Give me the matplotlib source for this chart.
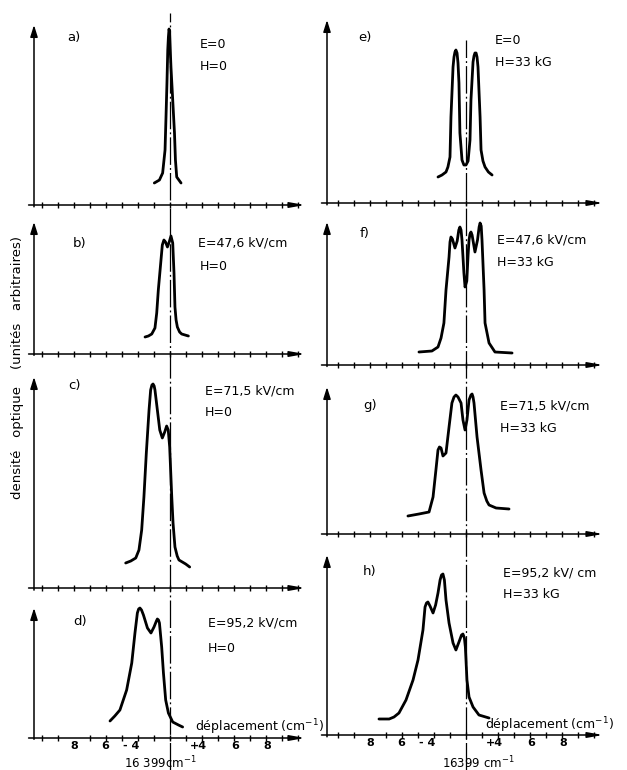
import matplotlib
matplotlib.use('Agg')
import matplotlib.pyplot as plt

plt.rcParams['font.family'] = ['DejaVu Sans']

W, H = 627, 770

# ---------------- data (x: displacement from 16399 cm-1, y: optical density, arbitrary units)
a_x = [-0.98, -0.66, -0.46, -0.31, -0.25, -0.19, -0.14, -0.10, -0.06, -0.03, 0.06, 0.17, 0.28, 0.34, 0.42, 0.69]
a_y = [22, 25, 32, 55, 88, 122, 155, 168, 176, 173, 138, 105, 72, 45, 28, 22]

b_x = [-1.56, -1.35, -1.14, -0.94, -0.83, -0.73, -0.58, -0.48, -0.38, -0.28, -0.16, -0.05, 0.06,
       0.17, 0.25, 0.31, 0.38, 0.46, 0.6, 0.73, 1.15]
b_y = [17, 18, 20, 26, 41, 64, 91, 109, 114, 112, 107, 112, 118, 111, 81, 47, 34, 27, 22, 20, 18]

c_x = [-2.77, -2.45, -2.14, -1.94, -1.77, -1.63, -1.48, -1.31, -1.21, -1.13, -1.06, -0.99, -0.94,
       -0.79, -0.64, -0.48, -0.33, -0.21, -0.11, -0.02, 0.04, 0.11, 0.19, 0.31, 0.45, 0.56,
       0.98, 1.23]
c_y = [25, 27, 30, 38, 58, 91, 135, 178, 198, 203, 204, 202, 198, 178, 158, 150, 156, 162, 158,
       141, 118, 91, 65, 41, 32, 28, 24, 21]

d_x = [-3.75, -3.45, -3.13, -2.71, -2.39, -2.19, -2.04, -1.96, -1.88, -1.78, -1.66, -1.41, -1.19,
       -1.0, -0.85, -0.79, -0.72, -0.66, -0.52, -0.41, -0.27, -0.10, 0.17, 0.53, 0.79]
d_y = [17, 22, 28, 48, 75, 105, 125, 129, 130, 128, 123, 110, 105, 111, 117, 119, 118, 115, 91,
       65, 38, 25, 16, 13, 11]

e_x = [-1.75, -1.5, -1.25, -1.13, -1.0, -0.94, -0.81, -0.75, -0.69, -0.63, -0.56, -0.5, -0.44,
       -0.38, -0.25, -0.13, 0.0, 0.13, 0.25, 0.31, 0.44, 0.5, 0.56, 0.63, 0.69, 0.75, 0.88, 0.94,
       1.06, 1.19, 1.4, 1.63]
e_y = [26, 28, 31, 36, 46, 86, 136, 146, 151, 153, 150, 140, 120, 70, 43, 38, 38, 42, 63, 103,
       141, 147, 150, 150, 146, 136, 86, 53, 42, 36, 31, 28]

f_x = [-2.94, -2.13, -1.75, -1.56, -1.38, -1.25, -1.06, -1.0, -0.94, -0.85, -0.69, -0.55, -0.45,
       -0.38, -0.31, -0.25, -0.13, -0.06, 0.05, 0.13, 0.19, 0.25, 0.31, 0.38, 0.56, 0.72, 0.82,
       0.88, 0.95, 1.0, 1.13, 1.19, 1.44, 1.81, 2.88]
f_y = [13, 14, 18, 27, 42, 75, 108, 123, 128, 126, 117, 124, 135, 138, 135, 125, 92, 78, 84, 110,
       125, 131, 133, 130, 113, 125, 138, 142, 139, 125, 75, 42, 22, 13, 12]

g_x = [-3.63, -2.94, -2.31, -2.06, -1.88, -1.75, -1.66, -1.56, -1.44, -1.25, -1.06, -0.88, -0.75,
       -0.63, -0.5, -0.31, -0.19, -0.06, 0.06, 0.19, 0.31, 0.38, 0.44, 0.5, 0.69, 0.94, 1.13,
       1.3, 1.44, 1.88, 2.69]
g_y = [18, 20, 22, 37, 64, 84, 87, 86, 78, 81, 107, 131, 137, 139, 137, 131, 114, 104, 114, 134,
       139, 140, 137, 131, 97, 64, 41, 33, 29, 26, 25]

h_x = [-5.44, -4.8, -4.5, -4.19, -3.75, -3.31, -3.0, -2.69, -2.56, -2.47, -2.38, -2.25, -2.06,
       -1.9, -1.75, -1.62, -1.53, -1.44, -1.35, -1.25, -1.06, -0.81, -0.63, -0.44, -0.28, -0.19,
       -0.1, -0.04, 0.06, 0.19, 0.44, 0.81, 1.44]
h_y = [16, 16, 18, 22, 35, 55, 75, 105, 128, 132, 133, 129, 122, 130, 142, 155, 160, 161, 155,
       135, 112, 92, 85, 93, 100, 101, 97, 88, 55, 38, 28, 20, 17]

curves_x = [a_x, b_x, c_x, d_x, e_x, f_x, g_x, h_x]
curves_y = [a_y, b_y, c_y, d_y, e_y, f_y, g_y, h_y]

panel_letters = ['a)', 'b)', 'c)', 'd)', 'e)', 'f)', 'g)', 'h)']
E_labels = ['E=0', 'E=47,6 kV/cm', 'E=71,5 kV/cm', 'E=95,2 kV/cm',
            'E=0', 'E=47,6 kV/cm', 'E=71,5 kV/cm', 'E=95,2 kV/ cm']
H_labels = ['H=0', 'H=0', 'H=0', 'H=0', 'H=33 kG', 'H=33 kG', 'H=33 kG', 'H=33 kG']

minor_ticks = [-8, -7, -6, -5, -4, -3, -2, -1, 0, 1, 2, 3, 4, 5, 6, 7, 8]
label_ticks = [-6.0, -4.05, -2.45, 1.75, 4.1, 6.1]
tick_labels = ['8', '6', '- 4', '+4', '6', '8']

ylabel = 'densité   optique    (unités   arbitraires)'
xlabel = 'déplacement (cm$^{-1}$)'
center_labels = ['16 399cm$^{-1}$', '16399 cm$^{-1}$']

# ---------------- layout (pixels)
cols = [dict(x0=34, x1=305, xc=170, top=13), dict(x0=327, x1=603, xc=466, top=40)]
PX = 16.0  # pixels per x unit
# (column, axis y, top y)
panels = [(0, 205, 25), (0, 354, 222), (0, 588, 377), (0, 738, 608),
          (1, 203, 20), (1, 365, 222), (1, 534, 387), (1, 735, 555)]
letter_pos = [(67, 37), (73, 243), (68, 385), (73, 622), (358, 38), (360, 233), (363, 405), (363, 572)]
E_pos = [(200, 45), (198, 243), (205, 391), (208, 623), (495, 41), (497, 240), (500, 406), (503, 573)]
H_pos = [(200, 66), (200, 266), (205, 413), (208, 648), (495, 63), (497, 262), (500, 429), (503, 595)]

fig = plt.figure(figsize=(W / 100, H / 100), dpi=100)
fig.patch.set_facecolor('white')


def fx(x):
    return x / W


def fy(y):
    return 1 - y / H


def xlim_of(c):
    return ((c['x0'] - c['xc']) / PX, (c['x1'] - c['xc']) / PX)


# column reference lines (16399 cm-1)
for c in cols:
    cax = fig.add_axes([fx(c['x0']), 0, (c['x1'] - c['x0']) / W, 1])
    cax.set_xlim(*xlim_of(c))
    cax.set_ylim(0, 1)
    cax.axis('off')
    cax.axvline(0, ymin=0, ymax=fy(c['top']), color='black', lw=0.9,
                linestyle=(0, (22, 2.5, 1.5, 2.5)))

lw_axis = 1.1
for i, (ci, ay, ty) in enumerate(panels):
    c = cols[ci]
    hpx = ay - ty
    ax = fig.add_axes([fx(c['x0']), fy(ay), (c['x1'] - c['x0']) / W, hpx / H])
    ax.patch.set_alpha(0)
    ax.set_xlim(*xlim_of(c))
    ax.set_ylim(0, hpx)
    for s in ax.spines.values():
        s.set_visible(False)
    ax.set_yticks([])
    ax.set_xticks(minor_ticks, minor=True)
    ax.tick_params(axis='x', which='minor', length=4, width=1.0, direction='inout')
    bottom = (i % 4 == 3)
    if bottom:
        ax.set_xticks(label_ticks)
        ax.set_xticklabels(tick_labels, fontsize=8, fontweight='bold')
        ax.tick_params(axis='x', which='major', length=0, pad=2.5)
    else:
        ax.set_xticks([])
    # axes with arrows
    ax.annotate('', xy=(0, 1.0), xytext=(0, -0.01), xycoords='axes fraction',
                arrowprops=dict(arrowstyle='-|>,head_length=0.7,head_width=0.22', lw=lw_axis,
                                color='black', shrinkA=0, shrinkB=0))
    ax.annotate('', xy=(1.0, 0), xytext=(-0.02, 0), xycoords='axes fraction',
                arrowprops=dict(arrowstyle='-|>,head_length=0.9,head_width=0.16', lw=lw_axis,
                                color='black', shrinkA=0, shrinkB=0))
    ax.plot(curves_x[i], curves_y[i], color='black', lw=2.0,
            solid_joinstyle='round', solid_capstyle='round', clip_on=False)

    lx, ly = letter_pos[i]
    fig.text(fx(lx), fy(ly), panel_letters[i], fontsize=9.5, ha='left', va='center')
    ex, ey = E_pos[i]
    fig.text(fx(ex), fy(ey), E_labels[i], fontsize=9, ha='left', va='center')
    hx, hy = H_pos[i]
    fig.text(fx(hx), fy(hy), H_labels[i], fontsize=9, ha='left', va='center')

fig.text(fx(18), fy(368), ylabel, rotation=90, fontsize=9.5, ha='center', va='center')
fig.text(fx(195), fy(727), xlabel, fontsize=9, ha='left', va='center')
fig.text(fx(485), fy(725), xlabel, fontsize=9, ha='left', va='center')
fig.text(fx(160), fy(768.5), center_labels[0], fontsize=8.5, ha='center', va='baseline')
fig.text(fx(478), fy(768.5), center_labels[1], fontsize=8.5, ha='center', va='baseline')

fig.savefig('out.png', dpi=100, facecolor='white')
